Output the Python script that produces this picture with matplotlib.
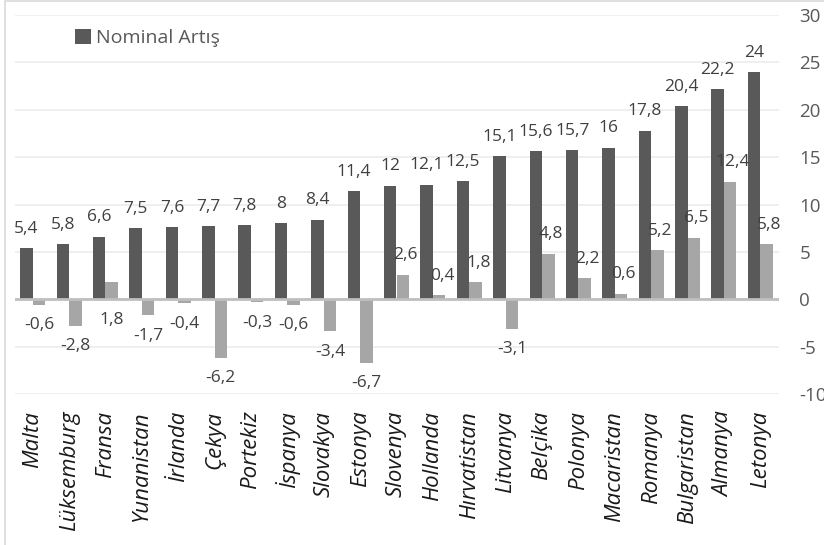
import matplotlib
matplotlib.use('Agg')
import matplotlib.pyplot as plt
from matplotlib.patches import Rectangle
import numpy as np

# data
countries = ['Malta', 'Lüksemburg', 'Fransa', 'Yunanistan', 'İrlanda', 'Çekya',
             'Portekiz', 'İspanya', 'Slovakya', 'Estonya', 'Slovenya', 'Hollanda',
             'Hırvatistan', 'Litvanya', 'Belçika', 'Polonya', 'Macaristan',
             'Romanya', 'Bulgaristan', 'Almanya', 'Letonya']
nominal = [5.4, 5.8, 6.6, 7.5, 7.6, 7.7, 7.8, 8, 8.4, 11.4, 12, 12.1, 12.5,
           15.1, 15.6, 15.7, 16, 17.8, 20.4, 22.2, 24]
real = [-0.6, -2.8, 1.8, -1.7, -0.4, -6.2, -0.3, -0.6, -3.4, -6.7, 2.6, 0.4,
        1.8, -3.1, 4.8, 2.2, 0.6, 5.2, 6.5, 12.4, 5.8]
yticks = [-10, -5, 0, 5, 10, 15, 20, 25, 30]

plt.rcParams['font.family'] = ['Open Sans', 'DejaVu Sans']

DARK = '#595959'
LIGHT = '#a6a6a6'
TXT = '#404040'

def fmt(v):
    return ('%g' % v).replace('.', ',')

fig = plt.figure(figsize=(8.24, 5.45), dpi=100)
ax = fig.add_axes([14.5 / 824, 1 - 394 / 545, 764 / 824, 379 / 545])

x = np.arange(len(countries))
w = 0.344
ax.bar(x - w / 2, nominal, w, color=DARK, label='Nominal Artış', zorder=3)
ax.bar(x + w / 2, real, w, color=LIGHT, zorder=3)

# value labels
lsize = 12.5
for i, v in enumerate(nominal):
    ax.annotate(fmt(v), (x[i] - w / 2, v), xytext=(0, 11), textcoords='offset points',
                ha='center', va='baseline', fontsize=lsize, color=TXT)
below_zero = {2}  # label shown under the axis line in the original
for i, v in enumerate(real):
    if v < 0 or i in below_zero:
        yv = min(v, 0)
        ax.annotate(fmt(v), (x[i] + w / 2, yv), xytext=(0, -9), textcoords='offset points',
                    ha='center', va='top', fontsize=lsize, color=TXT)
    else:
        ax.annotate(fmt(v), (x[i] + w / 2, v), xytext=(2, 11), textcoords='offset points',
                    ha='center', va='baseline', fontsize=lsize, color=TXT)

ax.set_xlim(-0.5, len(countries) - 0.5)
ax.set_ylim(-10, 30)
ax.set_yticks(yticks)
ax.set_yticklabels([str(t) for t in yticks], fontsize=13.5, color=DARK)
ax.yaxis.tick_right()
ax.tick_params(axis='y', length=0, pad=15)
ax.grid(axis='y', color='#ececec', linewidth=1.2, zorder=0)
ax.axhline(0, color='#bfbfbf', linewidth=2, zorder=4)

ax.set_xticks(x)
ax.set_xticklabels(countries, rotation=90, fontsize=16, style='italic',
                   color='#1a1a1a', va='top', ha='center')
ax.tick_params(axis='x', length=0, pad=12)

for s in ax.spines.values():
    s.set_visible(False)

ax.legend(loc='upper left', bbox_to_anchor=(53 / 764, 1 - 6 / 379), frameon=False,
          fontsize=14, labelcolor=DARK, handlelength=0.8, handleheight=0.8,
          handletextpad=0.25, borderaxespad=0)

# outer chart border
fig.patches.append(Rectangle((5 / 824, -0.1), 1.2, 1.098, transform=fig.transFigure,
                             fill=False, edgecolor='#d9d9d9', linewidth=1.2))

fig.savefig('out.png', dpi=100)
